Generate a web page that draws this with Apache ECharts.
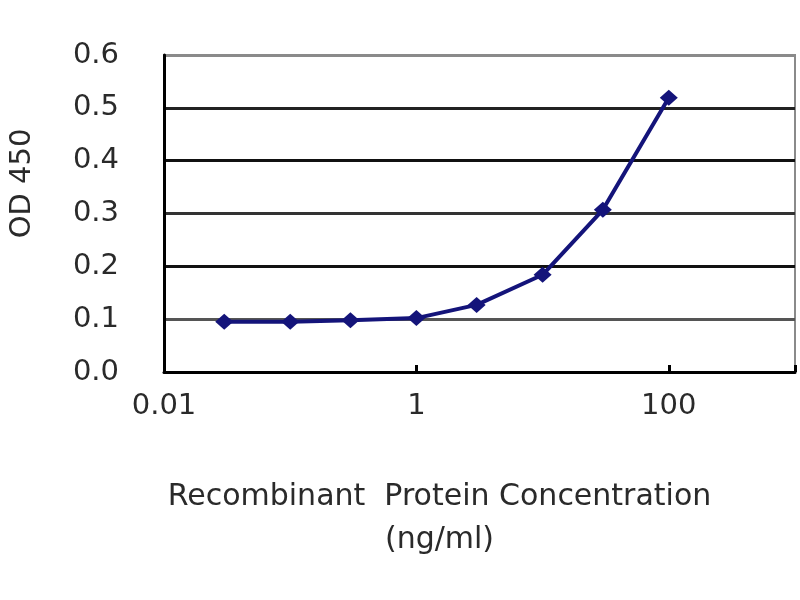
<!DOCTYPE html>
<html>
<head>
<meta charset="utf-8">
<script src="https://cdn.jsdelivr.net/npm/echarts@6/dist/echarts.min.js"></script>
<style>
html,body{margin:0;padding:0;background:#fff;}
#chart{width:800px;height:600px;}
</style>
</head>
<body>
<div id="chart"></div>
<script>
// Data
var concentrations = [0.03, 0.1, 0.3, 1, 3, 10, 30, 100];
var od450 = [0.095, 0.095, 0.098, 0.102, 0.127, 0.184, 0.307, 0.519];
var xTickLabels = ['0.01', '1', '100'];
var xAxisTitle = 'Recombinant  Protein Concentration\n(ng/ml)';
var yAxisTitle = 'OD 450';

var points = concentrations.map(function (c, i) { return [c, od450[i]]; });

var chart = echarts.init(document.getElementById('chart'));
var font = 'DejaVu Sans';
chart.setOption({
  backgroundColor: '#ffffff',
  animation: false,
  grid: {
    left: 160, right: 5, top: 55, bottom: 228,
    show: true, borderColor: '#8a8a8a', borderWidth: 2, backgroundColor: '#ffffff'
  },
  xAxis: {
    type: 'log',
    logBase: 100,
    min: 0.01,
    max: 1000,
    name: xAxisTitle,
    nameLocation: 'middle',
    nameGap: 104,
    nameTextStyle: {
      fontFamily: font, fontSize: 30, color: '#2a2a2a', lineHeight: 43,
      padding: [0, 80, 0, 0]
    },
    axisLine: { show: true, lineStyle: { color: '#000', width: 3 } },
    axisTick: { show: true, inside: true, length: 7, lineStyle: { color: '#000', width: 3 } },
    minorTick: { show: false },
    splitLine: { show: false },
    axisLabel: {
      margin: 20,
      fontFamily: font, fontSize: 29, color: '#2a2a2a',
      formatter: function (v) {
        var e = Math.round(Math.log10(v));
        var map = { '-2': xTickLabels[0], '0': xTickLabels[1], '2': xTickLabels[2] };
        return map[String(e)] || '';
      }
    }
  },
  yAxis: {
    type: 'value',
    min: 0,
    max: 0.6,
    interval: 0.1,
    name: yAxisTitle,
    nameLocation: 'middle',
    nameGap: 127,
    nameTextStyle: {
      fontFamily: font, fontSize: 29, color: '#2a2a2a',
      padding: [0, 0, 0, 60]
    },
    axisLine: { show: true, lineStyle: { color: '#000', width: 3 } },
    axisTick: { show: false },
    splitLine: {
      show: true,
      lineStyle: { color: ['#000', '#555', '#111', '#333', '#111', '#222', '#8a8a8a'], width: 3 }
    },
    axisLabel: {
      margin: 45,
      fontFamily: font, fontSize: 29, color: '#2a2a2a',
      formatter: function (v) { return v.toFixed(1); }
    }
  },
  series: [{
    type: 'line',
    data: points,
    symbol: 'diamond',
    symbolSize: [18, 16],
    showAllSymbol: true,
    lineStyle: { color: '#14147a', width: 4 },
    itemStyle: { color: '#14147a' }
  }]
});
</script>
</body>
</html>
